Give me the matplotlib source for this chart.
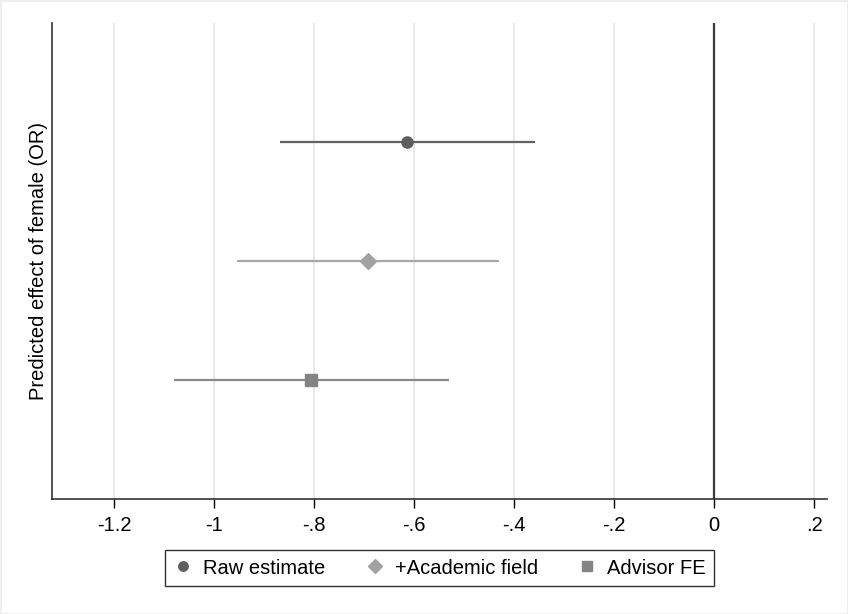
import matplotlib
matplotlib.use("Agg")
import matplotlib.pyplot as plt
from matplotlib.lines import Line2D

plt.rcParams['font.family'] = ['Liberation Sans', 'DejaVu Sans']

# Data
models = ["Raw estimate", "+Academic field", "Advisor FE"]
estimates = [-0.615, -0.693, -0.806]
ci_low = [-0.868, -0.955, -1.081]
ci_high = [-0.359, -0.430, -0.530]
ypos = [3, 2, 1]
markers = ["o", "D", "s"]
marker_sizes = [8, 8, 8.5]
colors = ["#5e5e5e", "#a2a2a2", "#838383"]
line_colors = ["#626262", "#a8a8a8", "#8a8a8a"]
xticks = [-1.2, -1.0, -0.8, -0.6, -0.4, -0.2, 0.0, 0.2]
xticklabels = ["-1.2", "-1", "-.8", "-.6", "-.4", "-.2", "0", ".2"]

fig = plt.figure(figsize=(8.48, 6.14), dpi=100)
fig.patch.set_facecolor("white")
fig.patch.set_edgecolor("#eeeeee")
fig.patch.set_linewidth(2)
ax = fig.add_axes([0.061, 0.1873, 0.9146, 0.7757])

for x in xticks:
    ax.axvline(x, color="#e6e6e6", lw=1.3, zorder=0)
ax.axvline(0, color="#3a3a3a", lw=1.6, zorder=1)

handles = []
for m, e, lo, hi, y, mk, ms, c, lc in zip(models, estimates, ci_low, ci_high, ypos,
                                        markers, marker_sizes, colors, line_colors):
    ax.plot([lo, hi], [y, y], color=lc, lw=1.6, zorder=2, solid_capstyle="butt")
    ax.plot([e], [y], marker=mk, ms=ms, color=c, mec=c, ls="none", zorder=3)
    handles.append(Line2D([], [], marker=mk, ms=ms * 0.85, color=c, mec=c, ls="none", label=m))

ax.set_xlim(-1.3246, 0.2266)
ax.set_ylim(0, 4)
ax.set_xticks(xticks)
ax.set_xticklabels(xticklabels, fontsize=14.5)
ax.set_yticks([])
ax.tick_params(axis="x", length=6.5, width=1, pad=6, color="black")
for s in ["top", "right"]:
    ax.spines[s].set_visible(False)
for s in ["left", "bottom"]:
    ax.spines[s].set_color("#333333")
    ax.spines[s].set_linewidth(1.2)
ax.set_ylabel("Predicted effect of female (OR)", fontsize=14.5, labelpad=3)

leg = fig.legend(handles=handles, loc="center", bbox_to_anchor=(0.5183, 0.0749), ncol=3,
                 fontsize=14.5, frameon=True, fancybox=False, handlelength=1.0,
                 handletextpad=0.5, columnspacing=1.95, borderpad=0.4)
leg.get_frame().set_edgecolor("black")
leg.get_frame().set_linewidth(1.0)

fig.savefig("out.png", dpi=100, facecolor="white", edgecolor=fig.get_edgecolor())
